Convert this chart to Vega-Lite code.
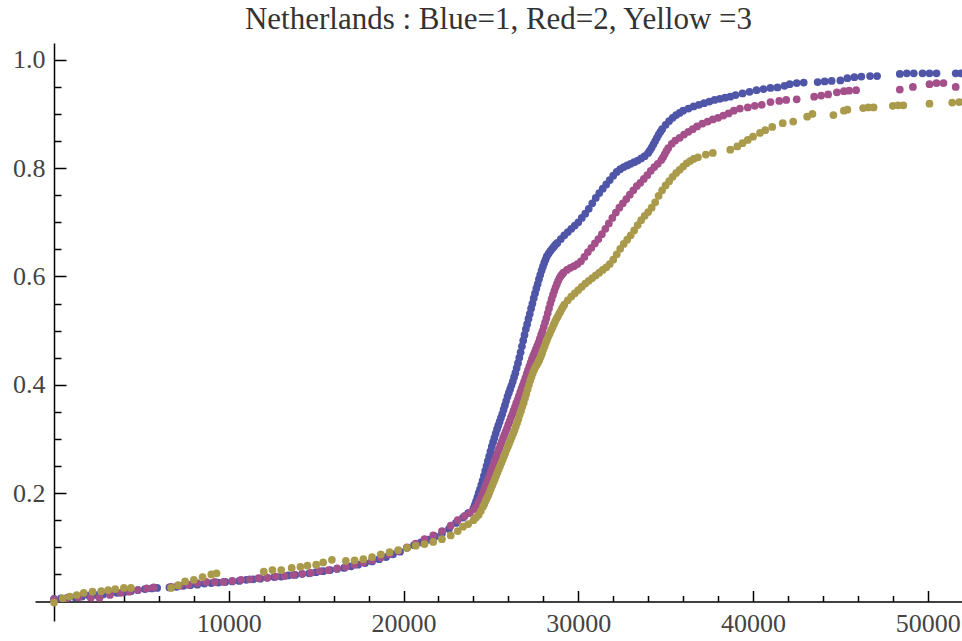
{
"$schema":"https://vega.github.io/schema/vega-lite/v6.json",
"width":927,"height":578,"autosize":"none",
"padding":{"left":35,"top":43,"right":0,"bottom":20},
"background":"white",
"title":{"text":"Netherlands : Blue=1, Red=2, Yellow =3","font":"Liberation Serif","fontSize":31,"fontWeight":"normal","color":"#333333","offset":7,"anchor":"middle"},
"config":{"view":{"stroke":null},"axis":{"grid":false}},
"datasets":{"pts":[
{"g":1,"x":0,"y":0.005},{"g":1,"x":400,"y":0.006},{"g":1,"x":800,"y":0.007},{"g":1,"x":1200,"y":0.008},{"g":1,"x":1600,"y":0.009},{"g":1,"x":2000,"y":0.011},{"g":1,"x":2400,"y":0.012},{"g":1,"x":2800,"y":0.013},{"g":1,"x":3200,"y":0.015},{"g":1,"x":3600,"y":0.016},{"g":1,"x":4000,"y":0.017},{"g":1,"x":4400,"y":0.019},{"g":1,"x":4800,"y":0.021},{"g":1,"x":5200,"y":0.023},{"g":1,"x":5600,"y":0.024},{"g":1,"x":5900,"y":0.025},{"g":1,"x":6600,"y":0.026},{"g":1,"x":7000,"y":0.027},{"g":1,"x":7400,"y":0.029},{"g":1,"x":7800,"y":0.030},{"g":1,"x":8200,"y":0.031},{"g":1,"x":8600,"y":0.033},{"g":1,"x":9000,"y":0.034},{"g":1,"x":9400,"y":0.035},{"g":1,"x":9800,"y":0.036},{"g":1,"x":10200,"y":0.037},{"g":1,"x":10600,"y":0.038},{"g":1,"x":11000,"y":0.040},{"g":1,"x":11400,"y":0.041},{"g":1,"x":11800,"y":0.042},{"g":1,"x":12200,"y":0.044},{"g":1,"x":12600,"y":0.045},{"g":1,"x":13000,"y":0.046},{"g":1,"x":13400,"y":0.048},{"g":1,"x":13800,"y":0.049},{"g":1,"x":14200,"y":0.051},{"g":1,"x":14600,"y":0.052},{"g":1,"x":15000,"y":0.054},{"g":1,"x":15400,"y":0.056},{"g":1,"x":15800,"y":0.058},{"g":1,"x":16200,"y":0.060},{"g":1,"x":16600,"y":0.062},{"g":1,"x":17000,"y":0.065},{"g":1,"x":17400,"y":0.068},{"g":1,"x":17800,"y":0.071},{"g":1,"x":18200,"y":0.074},{"g":1,"x":18600,"y":0.078},{"g":1,"x":19000,"y":0.082},{"g":1,"x":19400,"y":0.087},{"g":1,"x":19800,"y":0.092},{"g":1,"x":20200,"y":0.099},{"g":1,"x":20600,"y":0.104},{"g":1,"x":21000,"y":0.109},{"g":1,"x":21400,"y":0.114},{"g":1,"x":21800,"y":0.120},{"g":1,"x":22200,"y":0.126},{"g":1,"x":22600,"y":0.134},{"g":1,"x":23000,"y":0.145},{"g":1,"x":23400,"y":0.155},{"g":1,"x":23700,"y":0.163},
{"g":1,"x":24000,"y":0.172},{"g":1,"x":24075,"y":0.178},{"g":1,"x":24150,"y":0.185},{"g":1,"x":24225,"y":0.192},{"g":1,"x":24300,"y":0.200},{"g":1,"x":24375,"y":0.207},{"g":1,"x":24450,"y":0.215},{"g":1,"x":24525,"y":0.223},{"g":1,"x":24600,"y":0.232},{"g":1,"x":24675,"y":0.241},{"g":1,"x":24750,"y":0.250},{"g":1,"x":24825,"y":0.259},{"g":1,"x":24900,"y":0.268},{"g":1,"x":24975,"y":0.277},{"g":1,"x":25050,"y":0.286},{"g":1,"x":25125,"y":0.294},{"g":1,"x":25200,"y":0.302},{"g":1,"x":25275,"y":0.310},{"g":1,"x":25350,"y":0.318},{"g":1,"x":25425,"y":0.325},{"g":1,"x":25500,"y":0.332},{"g":1,"x":25575,"y":0.339},{"g":1,"x":25650,"y":0.346},{"g":1,"x":25725,"y":0.354},{"g":1,"x":25800,"y":0.362},{"g":1,"x":25875,"y":0.370},{"g":1,"x":25950,"y":0.378},{"g":1,"x":26025,"y":0.385},{"g":1,"x":26100,"y":0.392},{"g":1,"x":26175,"y":0.399},{"g":1,"x":26250,"y":0.406},{"g":1,"x":26325,"y":0.414},{"g":1,"x":26400,"y":0.422},{"g":1,"x":26475,"y":0.431},{"g":1,"x":26550,"y":0.440},{"g":1,"x":26625,"y":0.450},{"g":1,"x":26700,"y":0.460},{"g":1,"x":26775,"y":0.471},{"g":1,"x":26850,"y":0.482},{"g":1,"x":26925,"y":0.492},{"g":1,"x":27000,"y":0.503},{"g":1,"x":27075,"y":0.512},{"g":1,"x":27150,"y":0.522},{"g":1,"x":27225,"y":0.531},{"g":1,"x":27300,"y":0.541},{"g":1,"x":27375,"y":0.550},{"g":1,"x":27450,"y":0.560},{"g":1,"x":27525,"y":0.569},{"g":1,"x":27600,"y":0.578},{"g":1,"x":27675,"y":0.586},{"g":1,"x":27750,"y":0.595},{"g":1,"x":27825,"y":0.603},{"g":1,"x":27900,"y":0.611},{"g":1,"x":27975,"y":0.618},{"g":1,"x":28050,"y":0.625},{"g":1,"x":28125,"y":0.631},{"g":1,"x":28200,"y":0.637},{"g":1,"x":28300,"y":0.642},{"g":1,"x":28400,"y":0.647},{"g":1,"x":28500,"y":0.651},{"g":1,"x":28600,"y":0.655},{"g":1,"x":28700,"y":0.659},{"g":1,"x":28800,"y":0.662},{"g":1,"x":29000,"y":0.669},{"g":1,"x":29200,"y":0.676},{"g":1,"x":29400,"y":0.682},{"g":1,"x":29600,"y":0.688},{"g":1,"x":29800,"y":0.694},{"g":1,"x":30000,"y":0.700},{"g":1,"x":30200,"y":0.708},{"g":1,"x":30400,"y":0.716},{"g":1,"x":30600,"y":0.725},{"g":1,"x":30800,"y":0.735},{"g":1,"x":31000,"y":0.745},{"g":1,"x":31200,"y":0.754},{"g":1,"x":31400,"y":0.762},{"g":1,"x":31600,"y":0.770},{"g":1,"x":31800,"y":0.778},{"g":1,"x":32000,"y":0.786},{"g":1,"x":32200,"y":0.793},{"g":1,"x":32400,"y":0.798},{"g":1,"x":32600,"y":0.802},{"g":1,"x":32800,"y":0.805},{"g":1,"x":33000,"y":0.808},{"g":1,"x":33200,"y":0.811},{"g":1,"x":33400,"y":0.814},{"g":1,"x":33600,"y":0.818},{"g":1,"x":33800,"y":0.822},{"g":1,"x":34000,"y":0.828},{"g":1,"x":34100,"y":0.833},{"g":1,"x":34200,"y":0.838},{"g":1,"x":34300,"y":0.844},{"g":1,"x":34400,"y":0.850},{"g":1,"x":34500,"y":0.856},{"g":1,"x":34600,"y":0.862},{"g":1,"x":34700,"y":0.867},{"g":1,"x":34800,"y":0.872},{"g":1,"x":35000,"y":0.880},{"g":1,"x":35200,"y":0.887},{"g":1,"x":35400,"y":0.893},{"g":1,"x":35600,"y":0.898},{"g":1,"x":35800,"y":0.902},{"g":1,"x":36000,"y":0.906},{"g":1,"x":36300,"y":0.910},{"g":1,"x":36600,"y":0.914},{"g":1,"x":36900,"y":0.917},{"g":1,"x":37200,"y":0.920},{"g":1,"x":37500,"y":0.923},{"g":1,"x":37800,"y":0.926},{"g":1,"x":38100,"y":0.928},{"g":1,"x":38400,"y":0.930},{"g":1,"x":38700,"y":0.932},{"g":1,"x":39000,"y":0.935},{"g":1,"x":39400,"y":0.938},{"g":1,"x":39800,"y":0.941},{"g":1,"x":40200,"y":0.944},{"g":1,"x":40600,"y":0.946},{"g":1,"x":41000,"y":0.948},{"g":1,"x":41400,"y":0.949},{"g":1,"x":41800,"y":0.952},{"g":1,"x":42100,"y":0.955},{"g":1,"x":42500,"y":0.957},{"g":1,"x":42900,"y":0.958},{"g":1,"x":43700,"y":0.959},{"g":1,"x":44100,"y":0.960},{"g":1,"x":44500,"y":0.961},{"g":1,"x":45000,"y":0.962},{"g":1,"x":45400,"y":0.966},{"g":1,"x":45800,"y":0.968},{"g":1,"x":46200,"y":0.969},{"g":1,"x":46700,"y":0.970},{"g":1,"x":47100,"y":0.970},{"g":1,"x":48400,"y":0.974},{"g":1,"x":48800,"y":0.975},{"g":1,"x":49200,"y":0.975},{"g":1,"x":49700,"y":0.975},{"g":1,"x":50100,"y":0.975},{"g":1,"x":50500,"y":0.975},{"g":1,"x":51600,"y":0.975},{"g":1,"x":51900,"y":0.975},
{"g":2,"x":0,"y":0.004},{"g":2,"x":700,"y":0.006},{"g":2,"x":1400,"y":0.008},{"g":2,"x":2100,"y":0.007},{"g":2,"x":2600,"y":0.007},{"g":2,"x":3200,"y":0.012},{"g":2,"x":3800,"y":0.016},{"g":2,"x":4300,"y":0.018},{"g":2,"x":4800,"y":0.021},{"g":2,"x":5300,"y":0.024},{"g":2,"x":5700,"y":0.026},{"g":2,"x":6700,"y":0.027},{"g":2,"x":7200,"y":0.029},{"g":2,"x":7700,"y":0.031},{"g":2,"x":8200,"y":0.034},{"g":2,"x":8700,"y":0.036},{"g":2,"x":9200,"y":0.036},{"g":2,"x":9700,"y":0.036},{"g":2,"x":10200,"y":0.038},{"g":2,"x":10700,"y":0.040},{"g":2,"x":11200,"y":0.041},{"g":2,"x":11700,"y":0.043},{"g":2,"x":12200,"y":0.044},{"g":2,"x":12700,"y":0.046},{"g":2,"x":13200,"y":0.047},{"g":2,"x":13700,"y":0.049},{"g":2,"x":14200,"y":0.051},{"g":2,"x":14700,"y":0.053},{"g":2,"x":15200,"y":0.056},{"g":2,"x":15700,"y":0.058},{"g":2,"x":16200,"y":0.061},{"g":2,"x":16700,"y":0.064},{"g":2,"x":17200,"y":0.068},{"g":2,"x":17700,"y":0.072},{"g":2,"x":18200,"y":0.076},{"g":2,"x":18700,"y":0.081},{"g":2,"x":19200,"y":0.087},{"g":2,"x":19700,"y":0.093},{"g":2,"x":20200,"y":0.100},{"g":2,"x":20700,"y":0.107},{"g":2,"x":21200,"y":0.115},{"g":2,"x":21700,"y":0.122},{"g":2,"x":22200,"y":0.130},{"g":2,"x":22700,"y":0.140},{"g":2,"x":23100,"y":0.150},{"g":2,"x":23500,"y":0.158},{"g":2,"x":23800,"y":0.164},
{"g":2,"x":24050,"y":0.170},{"g":2,"x":24125,"y":0.173},{"g":2,"x":24200,"y":0.176},{"g":2,"x":24275,"y":0.181},{"g":2,"x":24350,"y":0.186},{"g":2,"x":24425,"y":0.191},{"g":2,"x":24500,"y":0.197},{"g":2,"x":24575,"y":0.203},{"g":2,"x":24650,"y":0.210},{"g":2,"x":24725,"y":0.216},{"g":2,"x":24800,"y":0.222},{"g":2,"x":24875,"y":0.228},{"g":2,"x":24950,"y":0.235},{"g":2,"x":25025,"y":0.242},{"g":2,"x":25100,"y":0.249},{"g":2,"x":25175,"y":0.255},{"g":2,"x":25250,"y":0.262},{"g":2,"x":25325,"y":0.269},{"g":2,"x":25400,"y":0.276},{"g":2,"x":25475,"y":0.282},{"g":2,"x":25550,"y":0.289},{"g":2,"x":25625,"y":0.295},{"g":2,"x":25700,"y":0.302},{"g":2,"x":25775,"y":0.308},{"g":2,"x":25850,"y":0.314},{"g":2,"x":25925,"y":0.320},{"g":2,"x":26000,"y":0.327},{"g":2,"x":26075,"y":0.333},{"g":2,"x":26150,"y":0.340},{"g":2,"x":26225,"y":0.346},{"g":2,"x":26300,"y":0.353},{"g":2,"x":26375,"y":0.359},{"g":2,"x":26450,"y":0.366},{"g":2,"x":26525,"y":0.372},{"g":2,"x":26600,"y":0.379},{"g":2,"x":26675,"y":0.386},{"g":2,"x":26750,"y":0.393},{"g":2,"x":26825,"y":0.399},{"g":2,"x":26900,"y":0.406},{"g":2,"x":26975,"y":0.413},{"g":2,"x":27050,"y":0.420},{"g":2,"x":27125,"y":0.427},{"g":2,"x":27200,"y":0.434},{"g":2,"x":27275,"y":0.441},{"g":2,"x":27350,"y":0.448},{"g":2,"x":27425,"y":0.454},{"g":2,"x":27500,"y":0.460},{"g":2,"x":27575,"y":0.466},{"g":2,"x":27650,"y":0.472},{"g":2,"x":27725,"y":0.478},{"g":2,"x":27800,"y":0.485},{"g":2,"x":27875,"y":0.492},{"g":2,"x":27950,"y":0.499},{"g":2,"x":28025,"y":0.507},{"g":2,"x":28100,"y":0.515},{"g":2,"x":28175,"y":0.523},{"g":2,"x":28250,"y":0.532},{"g":2,"x":28325,"y":0.541},{"g":2,"x":28400,"y":0.550},{"g":2,"x":28475,"y":0.558},{"g":2,"x":28550,"y":0.566},{"g":2,"x":28625,"y":0.573},{"g":2,"x":28700,"y":0.580},{"g":2,"x":28775,"y":0.586},{"g":2,"x":28850,"y":0.592},{"g":2,"x":28925,"y":0.597},{"g":2,"x":29000,"y":0.601},{"g":2,"x":29075,"y":0.604},{"g":2,"x":29150,"y":0.607},{"g":2,"x":29350,"y":0.612},{"g":2,"x":29550,"y":0.616},{"g":2,"x":29750,"y":0.619},{"g":2,"x":29950,"y":0.623},{"g":2,"x":30150,"y":0.628},{"g":2,"x":30350,"y":0.636},{"g":2,"x":30550,"y":0.645},{"g":2,"x":30750,"y":0.653},{"g":2,"x":30950,"y":0.661},{"g":2,"x":31150,"y":0.669},{"g":2,"x":31350,"y":0.678},{"g":2,"x":31550,"y":0.688},{"g":2,"x":31750,"y":0.698},{"g":2,"x":31950,"y":0.708},{"g":2,"x":32150,"y":0.718},{"g":2,"x":32350,"y":0.727},{"g":2,"x":32550,"y":0.735},{"g":2,"x":32750,"y":0.743},{"g":2,"x":32950,"y":0.751},{"g":2,"x":33150,"y":0.759},{"g":2,"x":33350,"y":0.767},{"g":2,"x":33550,"y":0.773},{"g":2,"x":33750,"y":0.780},{"g":2,"x":33950,"y":0.787},{"g":2,"x":34150,"y":0.795},{"g":2,"x":34350,"y":0.802},{"g":2,"x":34550,"y":0.808},{"g":2,"x":34750,"y":0.815},{"g":2,"x":34850,"y":0.820},{"g":2,"x":34950,"y":0.826},{"g":2,"x":35050,"y":0.832},{"g":2,"x":35150,"y":0.837},{"g":2,"x":35350,"y":0.845},{"g":2,"x":35550,"y":0.851},{"g":2,"x":35800,"y":0.856},{"g":2,"x":36050,"y":0.862},{"g":2,"x":36300,"y":0.867},{"g":2,"x":36550,"y":0.872},{"g":2,"x":36800,"y":0.877},{"g":2,"x":37100,"y":0.882},{"g":2,"x":37400,"y":0.886},{"g":2,"x":37700,"y":0.890},{"g":2,"x":38000,"y":0.893},{"g":2,"x":38300,"y":0.897},{"g":2,"x":38600,"y":0.901},{"g":2,"x":38900,"y":0.906},{"g":2,"x":39250,"y":0.910},{"g":2,"x":39700,"y":0.912},{"g":2,"x":40100,"y":0.915},{"g":2,"x":40500,"y":0.917},{"g":2,"x":41000,"y":0.922},{"g":2,"x":41500,"y":0.924},{"g":2,"x":41900,"y":0.926},{"g":2,"x":42500,"y":0.927},{"g":2,"x":43500,"y":0.932},{"g":2,"x":43900,"y":0.934},{"g":2,"x":44300,"y":0.936},{"g":2,"x":44800,"y":0.940},{"g":2,"x":45200,"y":0.942},{"g":2,"x":45500,"y":0.943},{"g":2,"x":45900,"y":0.944},{"g":2,"x":48400,"y":0.945},{"g":2,"x":49150,"y":0.950},{"g":2,"x":50100,"y":0.955},{"g":2,"x":50500,"y":0.957},{"g":2,"x":50900,"y":0.957},{"g":2,"x":51600,"y":0.950},
{"g":3,"x":0,"y":-0.002},{"g":3,"x":500,"y":0.006},{"g":3,"x":900,"y":0.009},{"g":3,"x":1300,"y":0.012},{"g":3,"x":1700,"y":0.016},{"g":3,"x":2200,"y":0.018},{"g":3,"x":2700,"y":0.019},{"g":3,"x":3100,"y":0.021},{"g":3,"x":3500,"y":0.023},{"g":3,"x":4000,"y":0.025},{"g":3,"x":4400,"y":0.025},{"g":3,"x":6700,"y":0.025},{"g":3,"x":7100,"y":0.030},{"g":3,"x":7500,"y":0.037},{"g":3,"x":8000,"y":0.040},{"g":3,"x":8500,"y":0.045},{"g":3,"x":9000,"y":0.050},{"g":3,"x":9300,"y":0.052},{"g":3,"x":12000,"y":0.055},{"g":3,"x":12500,"y":0.058},{"g":3,"x":13000,"y":0.058},{"g":3,"x":13600,"y":0.062},{"g":3,"x":14100,"y":0.064},{"g":3,"x":14500,"y":0.066},{"g":3,"x":15000,"y":0.068},{"g":3,"x":15400,"y":0.072},{"g":3,"x":15900,"y":0.077},{"g":3,"x":16700,"y":0.075},{"g":3,"x":17200,"y":0.076},{"g":3,"x":17700,"y":0.078},{"g":3,"x":18200,"y":0.082},{"g":3,"x":18700,"y":0.087},{"g":3,"x":19200,"y":0.091},{"g":3,"x":19700,"y":0.095},{"g":3,"x":20200,"y":0.099},{"g":3,"x":20700,"y":0.103},{"g":3,"x":21200,"y":0.106},{"g":3,"x":21700,"y":0.110},{"g":3,"x":22200,"y":0.115},{"g":3,"x":22700,"y":0.122},{"g":3,"x":23100,"y":0.130},{"g":3,"x":23400,"y":0.138},{"g":3,"x":23700,"y":0.143},{"g":3,"x":24000,"y":0.150},{"g":3,"x":24150,"y":0.155},
{"g":3,"x":24300,"y":0.160},{"g":3,"x":24425,"y":0.167},{"g":3,"x":24550,"y":0.175},{"g":3,"x":24625,"y":0.180},{"g":3,"x":24700,"y":0.186},{"g":3,"x":24775,"y":0.191},{"g":3,"x":24850,"y":0.196},{"g":3,"x":24925,"y":0.202},{"g":3,"x":25000,"y":0.208},{"g":3,"x":25075,"y":0.214},{"g":3,"x":25150,"y":0.220},{"g":3,"x":25225,"y":0.226},{"g":3,"x":25300,"y":0.232},{"g":3,"x":25375,"y":0.238},{"g":3,"x":25450,"y":0.244},{"g":3,"x":25525,"y":0.250},{"g":3,"x":25600,"y":0.256},{"g":3,"x":25675,"y":0.262},{"g":3,"x":25750,"y":0.268},{"g":3,"x":25825,"y":0.274},{"g":3,"x":25900,"y":0.280},{"g":3,"x":25975,"y":0.286},{"g":3,"x":26050,"y":0.292},{"g":3,"x":26125,"y":0.298},{"g":3,"x":26200,"y":0.304},{"g":3,"x":26275,"y":0.310},{"g":3,"x":26350,"y":0.316},{"g":3,"x":26425,"y":0.323},{"g":3,"x":26500,"y":0.330},{"g":3,"x":26575,"y":0.337},{"g":3,"x":26650,"y":0.345},{"g":3,"x":26725,"y":0.352},{"g":3,"x":26800,"y":0.360},{"g":3,"x":26875,"y":0.367},{"g":3,"x":26950,"y":0.375},{"g":3,"x":27025,"y":0.383},{"g":3,"x":27100,"y":0.392},{"g":3,"x":27175,"y":0.400},{"g":3,"x":27250,"y":0.408},{"g":3,"x":27325,"y":0.415},{"g":3,"x":27400,"y":0.422},{"g":3,"x":27475,"y":0.428},{"g":3,"x":27550,"y":0.433},{"g":3,"x":27625,"y":0.437},{"g":3,"x":27700,"y":0.441},{"g":3,"x":27775,"y":0.446},{"g":3,"x":27850,"y":0.452},{"g":3,"x":27925,"y":0.458},{"g":3,"x":28000,"y":0.465},{"g":3,"x":28075,"y":0.471},{"g":3,"x":28150,"y":0.478},{"g":3,"x":28225,"y":0.484},{"g":3,"x":28300,"y":0.490},{"g":3,"x":28375,"y":0.495},{"g":3,"x":28450,"y":0.501},{"g":3,"x":28525,"y":0.506},{"g":3,"x":28600,"y":0.512},{"g":3,"x":28675,"y":0.517},{"g":3,"x":28750,"y":0.522},{"g":3,"x":28825,"y":0.526},{"g":3,"x":28900,"y":0.531},{"g":3,"x":28975,"y":0.535},{"g":3,"x":29050,"y":0.540},{"g":3,"x":29125,"y":0.544},{"g":3,"x":29200,"y":0.548},{"g":3,"x":29400,"y":0.556},{"g":3,"x":29600,"y":0.563},{"g":3,"x":29800,"y":0.569},{"g":3,"x":30000,"y":0.575},{"g":3,"x":30200,"y":0.581},{"g":3,"x":30400,"y":0.587},{"g":3,"x":30600,"y":0.592},{"g":3,"x":30800,"y":0.597},{"g":3,"x":31000,"y":0.602},{"g":3,"x":31200,"y":0.607},{"g":3,"x":31400,"y":0.612},{"g":3,"x":31600,"y":0.617},{"g":3,"x":31800,"y":0.623},{"g":3,"x":32000,"y":0.631},{"g":3,"x":32200,"y":0.641},{"g":3,"x":32400,"y":0.651},{"g":3,"x":32600,"y":0.660},{"g":3,"x":32800,"y":0.668},{"g":3,"x":33000,"y":0.676},{"g":3,"x":33200,"y":0.685},{"g":3,"x":33400,"y":0.695},{"g":3,"x":33600,"y":0.704},{"g":3,"x":33800,"y":0.712},{"g":3,"x":34000,"y":0.719},{"g":3,"x":34200,"y":0.727},{"g":3,"x":34400,"y":0.737},{"g":3,"x":34600,"y":0.749},{"g":3,"x":34800,"y":0.759},{"g":3,"x":35000,"y":0.768},{"g":3,"x":35200,"y":0.776},{"g":3,"x":35400,"y":0.784},{"g":3,"x":35600,"y":0.791},{"g":3,"x":35800,"y":0.797},{"g":3,"x":36000,"y":0.803},{"g":3,"x":36200,"y":0.809},{"g":3,"x":36400,"y":0.813},{"g":3,"x":36600,"y":0.817},{"g":3,"x":36850,"y":0.820},{"g":3,"x":37300,"y":0.825},{"g":3,"x":37700,"y":0.828},{"g":3,"x":38700,"y":0.834},{"g":3,"x":39100,"y":0.840},{"g":3,"x":39400,"y":0.846},{"g":3,"x":39700,"y":0.852},{"g":3,"x":40000,"y":0.858},{"g":3,"x":40400,"y":0.865},{"g":3,"x":40700,"y":0.870},{"g":3,"x":41100,"y":0.876},{"g":3,"x":41700,"y":0.883},{"g":3,"x":42300,"y":0.886},{"g":3,"x":43100,"y":0.895},{"g":3,"x":43400,"y":0.900},{"g":3,"x":44600,"y":0.898},{"g":3,"x":45200,"y":0.906},{"g":3,"x":45400,"y":0.908},{"g":3,"x":46300,"y":0.911},{"g":3,"x":46600,"y":0.912},{"g":3,"x":46900,"y":0.912},{"g":3,"x":48000,"y":0.915},{"g":3,"x":48300,"y":0.916},{"g":3,"x":48600,"y":0.916},{"g":3,"x":50100,"y":0.919},{"g":3,"x":51400,"y":0.921},{"g":3,"x":51800,"y":0.922}
]},
"data":{"name":"pts"},
"layer":[
{"mark":{"type":"point","opacity":0},
 "encoding":{
  "x":{"field":"x","type":"quantitative","scale":{"domain":[-1090,51960],"nice":false,"zero":false},
       "axis":{"orient":"bottom","offset":-19.5,"values":[2000,4000,6000,8000,12000,14000,16000,18000,22000,24000,26000,28000,32000,34000,36000,38000,42000,44000,46000,48000],"labels":false,"domain":false,"tickSize":-6,"tickColor":"black","tickWidth":1.5,"title":null}},
  "y":{"field":"y","type":"quantitative","scale":{"domain":[-0.036,1.031],"nice":false,"zero":false},
       "axis":{"orient":"left","offset":-19,"values":[0.05,0.1,0.15,0.25,0.3,0.35,0.45,0.5,0.55,0.65,0.7,0.75,0.85,0.9,0.95],"labels":false,"domain":false,"tickSize":-7,"tickColor":"black","tickWidth":1.5,"title":null}}
 }},
{"mark":{"type":"circle","size":60,"opacity":1},
 "encoding":{
  "x":{"field":"x","type":"quantitative","scale":{"domain":[-1090,51960],"nice":false,"zero":false},
       "axis":{"orient":"bottom","offset":-19.5,"values":[10000,20000,30000,40000,50000],"format":"d","tickSize":-11,"labelPadding":20,"labelFont":"Liberation Serif","labelFontSize":26,"labelColor":"#444444","labelFlush":false,"labelOverlap":false,"labelBound":false,"domainColor":"black","domainWidth":1.5,"tickColor":"black","tickWidth":1.5,"title":null}},
  "y":{"field":"y","type":"quantitative","scale":{"domain":[-0.036,1.031],"nice":false,"zero":false},
       "axis":{"orient":"left","offset":-19,"values":[0.2,0.4,0.6,0.8,1.0],"format":".1f","tickSize":-12,"labelPadding":21,"labelFont":"Liberation Serif","labelFontSize":26,"labelColor":"#444444","labelFlush":false,"labelOverlap":false,"labelBound":false,"domainColor":"black","domainWidth":1.5,"tickColor":"black","tickWidth":1.5,"title":null}},
  "color":{"field":"g","type":"nominal","scale":{"domain":[1,2,3],"range":["#4f56a8","#a4508a","#a99b4b"]},"legend":null}
 }}
],
"resolve":{"axis":{"x":"independent","y":"independent"}}
}
